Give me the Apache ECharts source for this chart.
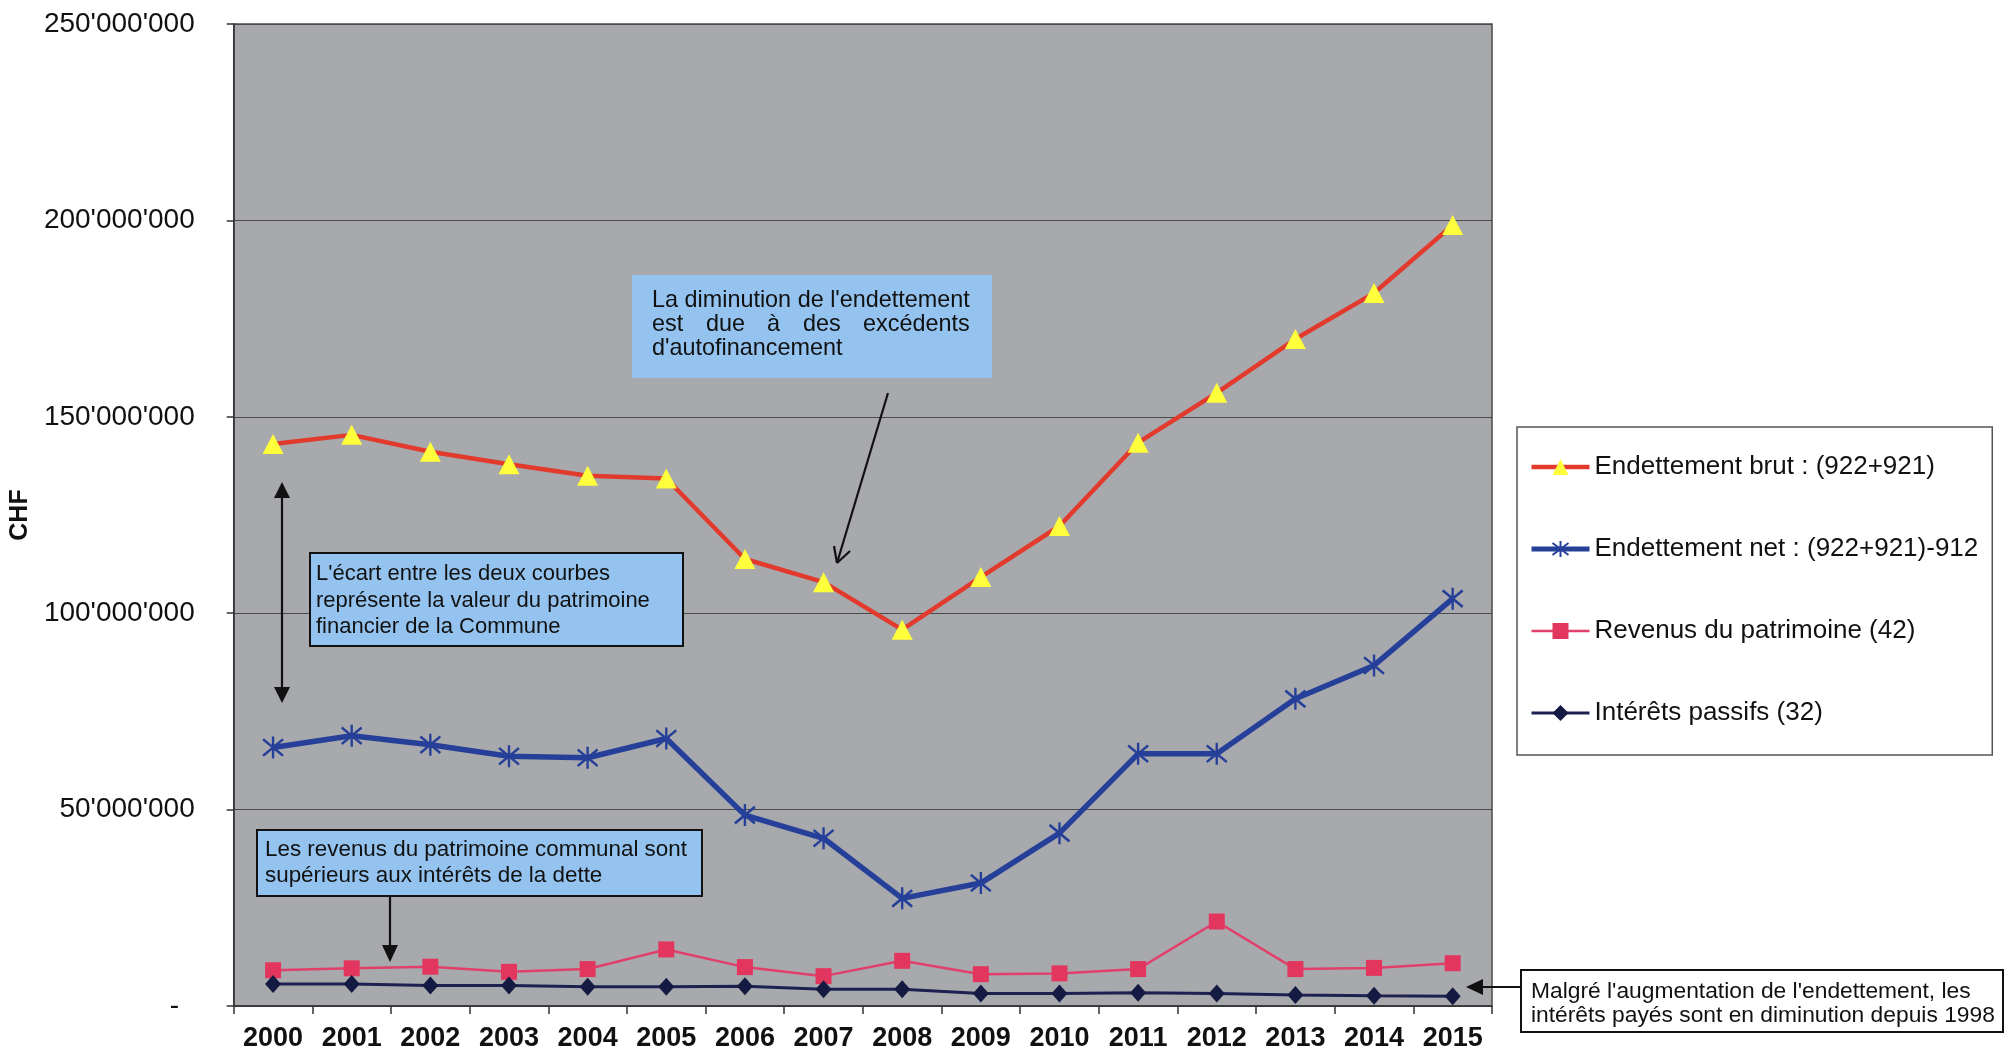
<!DOCTYPE html>
<html>
<head>
<meta charset="utf-8">
<script src="https://cdn.jsdelivr.net/npm/echarts@6/dist/echarts.min.js"></script>
<style>
html,body{margin:0;padding:0;background:#fff;}
#chart{width:2009px;height:1053px;}
</style>
</head>
<body>
<div id="chart"></div>
<script>
var years = ['2000','2001','2002','2003','2004','2005','2006','2007','2008','2009','2010','2011','2012','2013','2014','2015'];
var brut = [143100000,145400000,141100000,137900000,135000000,134300000,113800000,107900000,95800000,109200000,122200000,143400000,156100000,169800000,181500000,198800000];
var net = [65800000,68800000,66500000,63600000,63200000,68100000,48600000,42700000,27400000,31300000,44000000,64200000,64200000,78200000,86700000,103700000];
var revenus = [9100000,9600000,10000000,8700000,9400000,14400000,9900000,7600000,11500000,8100000,8300000,9400000,21500000,9400000,9700000,10900000];
var interets = [5600000,5600000,5200000,5200000,4900000,4900000,5000000,4250000,4250000,3200000,3200000,3400000,3200000,2800000,2600000,2500000];
var seriesNames = ['Endettement brut : (922+921)','Endettement net : (922+921)-912','Revenus du patrimoine (42)','Intérêts passifs (32)'];
var yTicks = {min:0, max:250000000, interval:50000000};

var FONT = "'Liberation Sans', Arial, sans-serif";
var BLUEBOX = '#93c3ee';

function fmt(v){
  if (v === 0) return '-  ';
  return String(Math.round(v)).replace(/\B(?=(\d{3})+(?!\d))/g, "'");
}
function txt(x, y, s, size){
  return {type:'text', x:x, y:y, z:100, style:{text:s, font:(size||22)+'px '+FONT, fill:'#111', align:'left', verticalAlign:'middle'}};
}
function box(x, y, w, h, fill, stroke){
  return {type:'rect', z:90, shape:{x:x, y:y, width:w, height:h}, style:{fill:fill, stroke:stroke||null, lineWidth:stroke?2:0}};
}
function line(x1,y1,x2,y2,w){
  return {type:'line', z:95, shape:{x1:x1,y1:y1,x2:x2,y2:y2}, style:{stroke:'#111', lineWidth:w||2}};
}
function poly(pts){
  return {type:'polygon', z:95, shape:{points:pts}, style:{fill:'#111'}};
}

var chart = echarts.init(document.getElementById('chart'));
var option = {
  animation:false,
  backgroundColor:'#ffffff',
  textStyle:{fontFamily:FONT},
  grid:{left:224, top:24, width:1268, height:982, show:true, backgroundColor:'#a8a9ad', borderColor:'#4a4a4a', borderWidth:1.5},
  xAxis:{
    type:'category', data:years, boundaryGap:true,
    axisLine:{show:true, lineStyle:{color:'#333', width:1.5}},
    axisTick:{show:true, alignWithLabel:false, length:8, lineStyle:{color:'#333', width:1.5}},
    axisLabel:{fontSize:27, fontWeight:'bold', color:'#111', margin:19, fontFamily:FONT}
  },
  yAxis:{
    type:'value', min:yTicks.min, max:yTicks.max, interval:yTicks.interval,
    name:'CHF', nameLocation:'middle', nameGap:191, nameRotate:90,
    nameTextStyle:{fontSize:25, fontWeight:'bold', color:'#111', fontFamily:FONT},
    axisLine:{show:true, lineStyle:{color:'#333', width:1.5}},
    axisTick:{show:true, length:7, lineStyle:{color:'#333', width:1.5}},
    axisLabel:{fontSize:28, color:'#111', margin:39, formatter:fmt, fontFamily:FONT},
    splitLine:{show:true, lineStyle:{color:'#4a4a4a', width:1}}
  },
  legend:{
    orient:'vertical', left:1517, top:427,
    padding:[27,14,29,12], itemGap:56, itemWidth:58, itemHeight:20,
    backgroundColor:'#ffffff', borderColor:'#555', borderWidth:1.5, borderRadius:0,
    textStyle:{fontSize:26, color:'#111', fontFamily:FONT, lineHeight:26},
    data:[
      {name:seriesNames[0], lineStyle:{width:4.5}},
      {name:seriesNames[1], lineStyle:{width:5}},
      {name:seriesNames[2], lineStyle:{width:2.5}},
      {name:seriesNames[3], lineStyle:{width:3}}
    ]
  },
  series:[
    {name:seriesNames[0], type:'line', data:brut, symbol:'triangle', symbolSize:[21,20],
     lineStyle:{color:'#e23a2c', width:4.5}, itemStyle:{color:'#ffff3c'}, z:3},
    {name:seriesNames[1], type:'line', data:net,
     symbol:'path://M0,-10L0,10M-7.5,-7.5L7.5,7.5M-7.5,7.5L7.5,-7.5', symbolSize:[20,22],
     lineStyle:{color:'#26409a', width:5.5}, itemStyle:{color:'rgba(0,0,0,0)', borderColor:'#26409a', borderWidth:2.5}, z:4},
    {name:seriesNames[2], type:'line', data:revenus, symbol:'rect', symbolSize:[16,16],
     lineStyle:{color:'#e0406a', width:2.5}, itemStyle:{color:'#e3365f'}, z:5},
    {name:seriesNames[3], type:'line', data:interets, symbol:'diamond', symbolSize:[16,18],
     lineStyle:{color:'#1c2150', width:3}, itemStyle:{color:'#141a42'}, z:6}
  ],
  graphic:[
    // box 1
    box(632,275,360,103,BLUEBOX,null),
    txt(652,301,"La diminution de l'endettement",23.4),
    txt(652,325,"est",23.4), txt(706,325,"due",23.4), txt(767,325,"à",23.4), txt(803,325,"des",23.4), txt(863,325,"excédents",23.4),
    txt(652,349,"d'autofinancement",23.4),
    line(888,393,837,563,2.2),
    line(837,563,834,546,2.2), line(837,563,850,551,2.2),
    // box 2
    box(310,553,373,93,BLUEBOX,'#111'),
    txt(316,574,"L'écart entre les deux courbes"),
    txt(316,601,"représente la valeur du patrimoine"),
    txt(316,627,"financier de la Commune"),
    line(282,496,282,689,2.2),
    poly([[282,482],[274,498],[290,498]]),
    poly([[282,703],[274,687],[290,687]]),
    // box 3
    box(257,830,445,66,BLUEBOX,'#111'),
    txt(265,850,"Les revenus du patrimoine communal sont",22.4),
    txt(265,876,"supérieurs aux intérêts de la dette",22.4),
    line(390,896,390,947,2.2),
    poly([[390,962],[382,945],[398,945]]),
    // box 4
    box(1521,970,482,62,'#ffffff','#111'),
    txt(1531,992,"Malgré l'augmentation de l'endettement, les",22.8),
    txt(1531,1016,"intérêts payés sont en diminution depuis 1998",22.8),
    line(1521,987,1480,987,2.2),
    poly([[1466,987],[1483,979],[1483,995]])
  ]
};
chart.setOption(option);
</script>
</body>
</html>
